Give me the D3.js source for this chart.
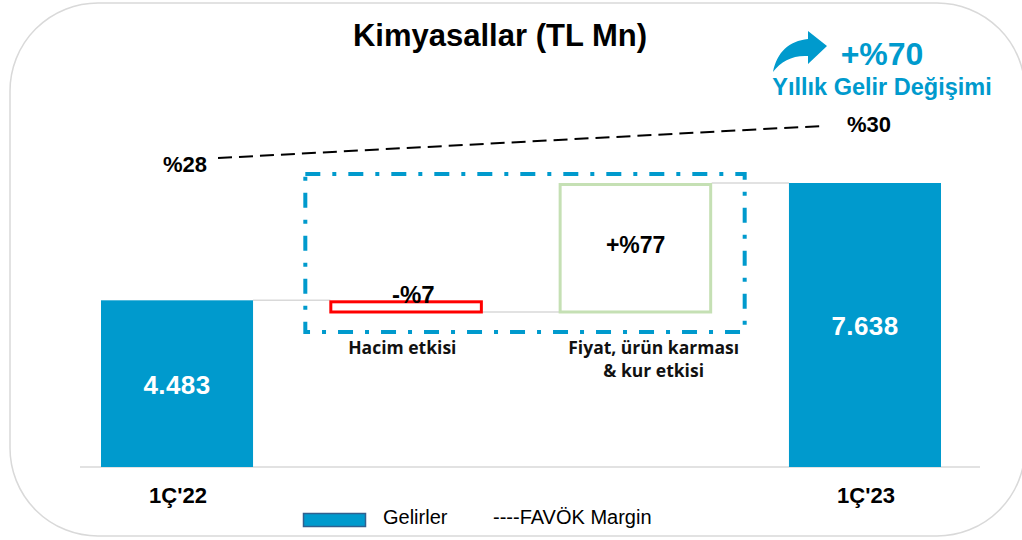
<!DOCTYPE html>
<html>
<head>
<meta charset="utf-8">
<script src="https://cdn.jsdelivr.net/npm/d3@7"></script>
<style>
  html, body { margin: 0; padding: 0; background: #fff; }
  svg { display: block; }
</style>
</head>
<body>
<div id="chart"></div>
<script>
// ── Data ─────────────────────────────────────────────
const categories  = ["1Ç'22", "Hacim etkisi", "Fiyat, ürün karması\n& kur etkisi", "1Ç'23"];
const stepValues  = [4483, -314, 3469, 7638];
const stepKinds   = ["total", "delta", "delta", "total"];
const stepLabels  = ["4.483", "-%7", "+%77", "7.638"];
const marginValues = [28, 30];
const marginLabels = ["%28", "%30"];
const changeLabel = "+%70";
const changeSub   = "Yıllık Gelir Değişimi";
const legendItems = ["Gelirler", "----FAVÖK Margin"];

const W = 1022, H = 540;
const BLUE = "#009acd";
const GRID = "#d9d9d9";
const ARIAL = "'Liberation Sans', Arial, sans-serif";
const CAL = "'Open Sans', sans-serif";

const svg = d3.select("#chart").append("svg").attr("width", W).attr("height", H);

// frame
svg.append("rect").attr("x", 10).attr("y", 3).attr("width", 1015).attr("height", 533)
    .attr("rx", 88).attr("ry", 88).attr("fill", "none").attr("stroke", GRID).attr("stroke-width", 1.5);

// waterfall geometry
let running = 0;
const bars = stepValues.map((v, i) => {
    let y0, y1;
    if (stepKinds[i] === "total") { y0 = 0; y1 = v; running = v; }
    else { y0 = running; y1 = running + v; running = y1; }
    return { cat: categories[i], kind: stepKinds[i], v, lo: Math.min(y0, y1), hi: Math.max(y0, y1), end: y1, label: stepLabels[i], i };
});

const x = d3.scaleBand().domain(categories).range([101, 941]).paddingInner(0.337).paddingOuter(0);
const y = d3.scaleLinear().domain([0, 7638]).range([467, 183]);
const bw = x.bandwidth();
const cx = c => x(c) + bw / 2;

// baseline
svg.append("line").attr("x1", 80).attr("x2", 980).attr("y1", y(0)).attr("y2", y(0))
    .attr("stroke", GRID).attr("stroke-width", 1.5);

// connectors
for (let i = 0; i < bars.length - 1; i++) {
    const a = bars[i], b = bars[i + 1];
    svg.append("line")
        .attr("x1", x(a.cat) + bw).attr("x2", x(b.cat))
        .attr("y1", y(a.end)).attr("y2", y(a.end))
        .attr("stroke", GRID).attr("stroke-width", 1.5);
}

// total bars
svg.selectAll("rect.total").data(bars.filter(d => d.kind === "total")).enter()
    .append("rect").attr("class", "total")
    .attr("x", d => x(d.cat)).attr("width", bw)
    .attr("y", d => y(d.hi)).attr("height", d => y(d.lo) - y(d.hi))
    .attr("fill", BLUE);

// delta boxes (outlined)
svg.selectAll("rect.delta").data(bars.filter(d => d.kind === "delta")).enter()
    .append("rect").attr("class", "delta")
    .attr("x", d => x(d.cat) + 0.5).attr("width", bw - 1.5)
    .attr("y", d => y(d.hi) + 1.5).attr("height", d => y(d.lo) - y(d.hi) - 1.5)
    .attr("fill", "none")
    .attr("stroke", d => d.v < 0 ? "#ff0000" : "#c5e0b4")
    .attr("stroke-width", 3);

// dash-dot frame round the effects
const dA = bars[1], dB = bars[2];
svg.append("rect")
    .attr("x", x(dA.cat) - 25).attr("y", y(7638) - 9)
    .attr("width", x(dB.cat) + bw + 33 - (x(dA.cat) - 25))
    .attr("height", y(dA.end) + 20 - (y(7638) - 9))
    .attr("fill", "none").attr("stroke", BLUE).attr("stroke-width", 4)
    .attr("stroke-dasharray", "15,12,4,12");

// value labels
bars.forEach(d => {
    if (d.kind === "total") {
        svg.append("text").attr("x", cx(d.cat)).attr("y", (y(d.lo) + y(d.hi)) / 2 + 10)
            .attr("text-anchor", "middle").attr("fill", "#fff")
            .attr("font-family", ARIAL).attr("font-weight", "bold").attr("font-size", 26)
            .attr("letter-spacing", 0.4)
            .text(d.label);
    } else if (d.v < 0) {
        svg.append("text").attr("x", cx(d.cat) + 7).attr("y", y(d.hi) + 3)
            .attr("text-anchor", "middle").attr("fill", "#000")
            .attr("font-family", ARIAL).attr("font-weight", "bold").attr("font-size", 24)
            .text(d.label);
    } else {
        svg.append("text").attr("x", cx(d.cat)).attr("y", (y(d.lo) + y(d.hi)) / 2 + 6)
            .attr("text-anchor", "middle").attr("fill", "#000")
            .attr("font-family", ARIAL).attr("font-weight", "bold").attr("font-size", 23)
            .text(d.label);
    }
});

// category labels
bars.forEach(d => {
    if (d.kind === "total") {
        svg.append("text").attr("x", cx(d.cat) + 1).attr("y", 503)
            .attr("text-anchor", "middle").attr("fill", "#000")
            .attr("font-family", ARIAL).attr("font-weight", "bold").attr("font-size", 22)
            .text(d.cat);
    } else {
        const lines = d.cat.split("\n");
        const off = lines.length > 1 ? 18 : -4;
        const t = svg.append("text").attr("text-anchor", "middle").attr("fill", "#111")
            .attr("font-family", CAL).attr("font-weight", "bold").attr("font-size", 17.5);
        lines.forEach((ln, k) => {
            t.append("tspan").attr("x", cx(d.cat) + off).attr("y", 354 + k * 23).text(ln);
        });
    }
});

// FAVÖK margin dashed line
const my = d3.scaleLinear().domain(marginValues).range([158, 126]);
const mx = [cx(categories[0]) + 41, cx(categories[3]) - 43];
svg.append("line")
    .attr("x1", mx[0]).attr("y1", my(marginValues[0]))
    .attr("x2", mx[1]).attr("y2", my(marginValues[1]))
    .attr("stroke", "#000").attr("stroke-width", 2).attr("stroke-dasharray", "14,7");
svg.append("text").attr("x", mx[0] - 11).attr("y", my(marginValues[0]) + 14)
    .attr("text-anchor", "end").attr("font-family", ARIAL).attr("font-weight", "bold")
    .attr("font-size", 22).text(marginLabels[0]);
svg.append("text").attr("x", mx[1] + 25).attr("y", my(marginValues[1]) + 6)
    .attr("text-anchor", "start").attr("font-family", ARIAL).attr("font-weight", "bold")
    .attr("font-size", 22).text(marginLabels[1]);

// title
svg.append("text").attr("x", 500).attr("y", 46).attr("text-anchor", "middle")
    .attr("font-family", ARIAL).attr("font-weight", "bold").attr("font-size", 31)
    .attr("fill", "#000").text("Kimyasallar (TL Mn)");

// annual change callout
svg.append("text").attr("x", 882).attr("y", 65).attr("text-anchor", "middle")
    .attr("font-family", ARIAL).attr("font-weight", "bold").attr("font-size", 32)
    .attr("fill", BLUE).text(changeLabel);
svg.append("text").attr("x", 882).attr("y", 95).attr("text-anchor", "middle")
    .attr("font-family", ARIAL).attr("font-weight", "bold").attr("font-size", 23.5)
    .attr("fill", BLUE).text(changeSub);
// curved arrow icon
svg.append("path")
    .attr("transform", "translate(773,72)")
    .attr("d", "M0,0 C4,-20 16,-31 35,-33 L35,-41 L54,-26 L35,-8 L35,-16 C20,-17 8,-11 0,0 Z")
    .attr("fill", BLUE);

// legend
svg.append("rect").attr("x", 303.5).attr("y", 513.5).attr("width", 62).attr("height", 13)
    .attr("fill", BLUE).attr("stroke", "#31608f").attr("stroke-width", 1.5);
svg.append("text").attr("x", 383).attr("y", 524).attr("font-family", ARIAL)
    .attr("font-size", 20).attr("fill", "#000").text(legendItems[0]);
svg.append("text").attr("x", 493).attr("y", 524).attr("font-family", ARIAL)
    .attr("font-size", 20).attr("fill", "#000").text(legendItems[1]);
</script>
</body>
</html>
